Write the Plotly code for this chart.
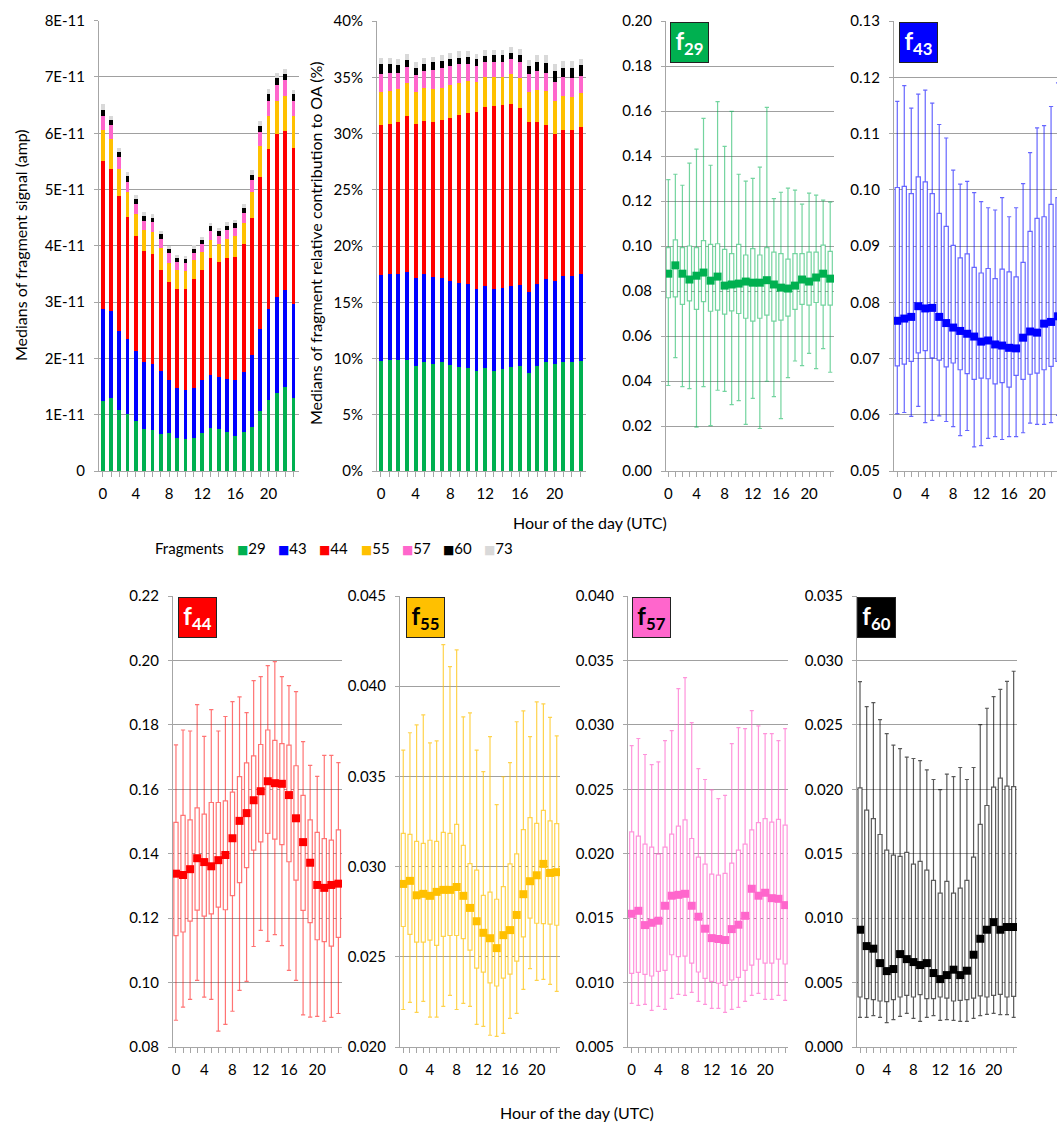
import plotly.graph_objects as go

W, H = 1057, 1124
HOURS = list(range(24))
FRAGMENTS = ["29", "43", "44", "55", "57", "60", "73"]
COLORS = ["#00B050", "#0000FF", "#FF0000", "#FFC000", "#FF66CC", "#000000", "#D9D9D9"]

# ---- Panel 1: medians of fragment signal, in units of 1E-11 amp ----
amp_29 = [1.25,1.29,1.08,1.01,0.88,0.74,0.72,0.66,0.67,0.58,0.56,0.59,0.67,0.76,0.74,0.69,0.63,0.69,0.78,1.06,1.26,1.38,1.50,1.29]
amp_43 = [1.62,1.55,1.41,1.33,1.25,1.20,1.18,1.12,0.94,0.90,0.88,0.89,0.94,0.94,0.93,0.95,0.99,1.07,1.28,1.47,1.61,1.72,1.71,1.68]
amp_44 = [2.63,2.53,2.40,2.17,2.04,1.96,1.95,1.79,1.75,1.75,1.79,1.93,1.96,2.08,2.04,2.15,2.19,2.27,2.44,2.69,2.85,2.88,2.83,2.76]
amp_55 = [0.55,0.52,0.47,0.45,0.40,0.38,0.39,0.39,0.34,0.34,0.33,0.33,0.32,0.33,0.32,0.33,0.36,0.38,0.46,0.56,0.59,0.60,0.62,0.57]
amp_57 = [0.26,0.25,0.22,0.18,0.18,0.17,0.18,0.17,0.17,0.15,0.14,0.14,0.14,0.16,0.15,0.16,0.15,0.18,0.21,0.25,0.27,0.28,0.28,0.27]
amp_60 = [0.11,0.09,0.08,0.10,0.08,0.08,0.08,0.08,0.07,0.07,0.07,0.07,0.08,0.08,0.08,0.08,0.08,0.08,0.09,0.10,0.11,0.12,0.12,0.12]
amp_73 = [0.10,0.08,0.08,0.07,0.07,0.07,0.07,0.06,0.06,0.05,0.05,0.06,0.05,0.06,0.06,0.06,0.06,0.07,0.08,0.08,0.09,0.09,0.09,0.08]
AMP_TICKVALS = [0, 1, 2, 3, 4, 5, 6, 7, 8]
AMP_TICKTEXT = ["0", "1E-11", "2E-11", "3E-11", "4E-11", "5E-11", "6E-11", "7E-11", "8E-11"]

# ---- Panel 2: relative contribution to OA (%) ----
pct_29 = [9.82,9.85,9.85,9.85,9.32,9.65,9.53,9.65,9.38,9.23,9.20,8.88,9.14,8.88,9.09,9.23,9.32,8.73,9.29,9.65,9.50,9.73,9.65,9.79]
pct_43 = [7.64,7.67,7.70,7.88,7.88,7.87,7.70,7.55,7.49,7.44,7.38,7.34,7.29,7.29,7.22,7.20,7.17,7.14,7.32,7.43,7.40,7.64,7.64,7.70]
pct_44 = [13.34,13.31,13.49,13.87,13.66,13.60,13.81,14.01,14.52,14.99,15.25,15.70,15.94,16.26,16.18,16.20,15.79,15.11,14.37,13.69,13.07,12.93,13.04,13.10]
pct_55 = [2.93,2.96,2.89,2.90,2.87,2.90,2.92,2.87,2.90,2.87,2.81,2.70,2.63,2.60,2.57,2.64,2.69,2.75,2.90,2.99,2.93,3.04,2.95,2.99]
pct_57 = [1.57,1.57,1.43,1.42,1.48,1.57,1.66,1.72,1.69,1.62,1.51,1.42,1.36,1.33,1.33,1.36,1.39,1.54,1.68,1.65,1.69,1.66,1.66,1.57]
pct_60 = [0.88,0.79,0.76,0.65,0.59,0.62,0.71,0.65,0.62,0.60,0.63,0.56,0.53,0.59,0.59,0.56,0.62,0.71,0.83,0.89,0.94,0.86,0.89,0.92]
pct_73 = [0.57,0.54,0.48,0.53,0.53,0.48,0.50,0.50,0.56,0.56,0.53,0.47,0.51,0.45,0.45,0.50,0.51,0.53,0.62,0.65,0.62,0.62,0.59,0.59]

# ---- Box panels: upper whisker, Q3, median, Q1, lower whisker ----
f29_hi  = [0.1295,0.1319,0.1270,0.1368,0.1431,0.1567,0.1359,0.1642,0.1443,0.1598,0.1319,0.1288,0.1301,0.1351,0.1616,0.1211,0.1239,0.1257,0.1248,0.1186,0.1235,0.1226,0.1204,0.1195]
f29_q3  = [0.0993,0.1027,0.0993,0.1000,0.0993,0.1024,0.1007,0.1010,0.0985,0.0966,0.1007,0.0960,0.0988,0.0960,0.0993,0.0973,0.0966,0.0942,0.0966,0.0966,0.0973,0.0973,0.1004,0.0976]
f29_med = [0.0877,0.0914,0.0877,0.0851,0.0868,0.0882,0.0846,0.0864,0.0824,0.0829,0.0833,0.0842,0.0837,0.0837,0.0848,0.0829,0.0815,0.0811,0.0824,0.0851,0.0842,0.0860,0.0877,0.0855]
f29_q1  = [0.0770,0.0774,0.0741,0.0756,0.0718,0.0753,0.0710,0.0715,0.0697,0.0712,0.0700,0.0679,0.0666,0.0679,0.0693,0.0666,0.0671,0.0688,0.0718,0.0741,0.0737,0.0749,0.0737,0.0737]
f29_lo  = [0.0380,0.0504,0.0375,0.0366,0.0195,0.0375,0.0202,0.0359,0.0354,0.0295,0.0313,0.0207,0.0323,0.0189,0.0399,0.0331,0.0233,0.0415,0.0489,0.0468,0.0523,0.0455,0.0544,0.0439]

f43_hi  = [0.1157,0.1185,0.1145,0.1170,0.1177,0.1154,0.1116,0.1092,0.1035,0.1010,0.1015,0.0995,0.0979,0.0968,0.0964,0.0986,0.0952,0.0968,0.1011,0.1066,0.1110,0.1114,0.1148,0.1190]
f43_q3  = [0.1004,0.1006,0.0993,0.1023,0.1014,0.0993,0.0958,0.0935,0.0901,0.0879,0.0886,0.0862,0.0852,0.0860,0.0842,0.0859,0.0854,0.0845,0.0871,0.0926,0.0949,0.0952,0.0974,0.0986]
f43_med = [0.0767,0.0771,0.0774,0.0793,0.0789,0.0790,0.0774,0.0763,0.0755,0.0749,0.0744,0.0739,0.0730,0.0732,0.0725,0.0723,0.0719,0.0718,0.0737,0.0748,0.0746,0.0762,0.0765,0.0775]
f43_q1  = [0.0687,0.0690,0.0695,0.0710,0.0714,0.0701,0.0697,0.0685,0.0692,0.0680,0.0673,0.0663,0.0665,0.0664,0.0655,0.0657,0.0649,0.0670,0.0663,0.0672,0.0674,0.0680,0.0686,0.0695]
f43_lo  = [0.0602,0.0604,0.0597,0.0615,0.0586,0.0590,0.0598,0.0588,0.0579,0.0563,0.0572,0.0543,0.0545,0.0558,0.0561,0.0556,0.0561,0.0561,0.0568,0.0585,0.0583,0.0583,0.0586,0.0599]

f44_hi  = [0.1738,0.1784,0.1781,0.1863,0.1764,0.1847,0.1781,0.1826,0.1872,0.1887,0.1838,0.1937,0.1950,0.1984,0.1996,0.1950,0.1922,0.1903,0.1748,0.1674,0.1640,0.1705,0.1705,0.1683]
f44_q3  = [0.1497,0.1519,0.1505,0.1542,0.1523,0.1559,0.1559,0.1564,0.1591,0.1639,0.1682,0.1704,0.1739,0.1784,0.1752,0.1742,0.1737,0.1673,0.1581,0.1505,0.1466,0.1447,0.1442,0.1474]
f44_med = [0.1338,0.1334,0.1352,0.1386,0.1374,0.1361,0.1380,0.1396,0.1448,0.1502,0.1526,0.1566,0.1594,0.1625,0.1619,0.1617,0.1582,0.1510,0.1436,0.1372,0.1303,0.1294,0.1303,0.1307]
f44_q1  = [0.1146,0.1157,0.1191,0.1225,0.1206,0.1213,0.1234,0.1226,0.1270,0.1310,0.1357,0.1411,0.1437,0.1463,0.1445,0.1428,0.1375,0.1318,0.1224,0.1186,0.1133,0.1127,0.1113,0.1140]
f44_lo  = [0.0883,0.0924,0.0948,0.1007,0.0955,0.0948,0.0849,0.0870,0.0911,0.0976,0.1004,0.1112,0.1162,0.1128,0.1149,0.1115,0.1038,0.1007,0.0900,0.0893,0.0895,0.0880,0.0892,0.0904]

f55_hi  = [0.03646,0.03742,0.03786,0.03841,0.03686,0.03697,0.04231,0.04109,0.04201,0.03830,0.03852,0.03646,0.03526,0.03720,0.03343,0.03498,0.03576,0.03803,0.03863,0.03721,0.03913,0.03902,0.03827,0.03725]
f55_q3  = [0.03184,0.03179,0.03140,0.03129,0.03146,0.03140,0.03190,0.03184,0.03234,0.03118,0.03017,0.02980,0.02841,0.02858,0.02819,0.02889,0.03015,0.03070,0.03205,0.03271,0.03240,0.03312,0.03253,0.03238]
f55_med = [0.02904,0.02921,0.02841,0.02849,0.02838,0.02860,0.02871,0.02871,0.02887,0.02838,0.02771,0.02697,0.02633,0.02603,0.02548,0.02620,0.02648,0.02732,0.02847,0.02919,0.02952,0.03015,0.02965,0.02969]
f55_q1  = [0.02668,0.02624,0.02581,0.02581,0.02592,0.02563,0.02613,0.02618,0.02618,0.02601,0.02537,0.02437,0.02415,0.02356,0.02338,0.02382,0.02404,0.02476,0.02611,0.02714,0.02686,0.02684,0.02681,0.02675]
f55_lo  = [0.02208,0.02247,0.02192,0.02253,0.02166,0.02166,0.02225,0.02286,0.02208,0.02242,0.02225,0.02125,0.02114,0.02065,0.02059,0.02076,0.02159,0.02186,0.02319,0.02435,0.02369,0.02375,0.02347,0.02308]

f57_hi  = [0.02839,0.02894,0.02770,0.02692,0.02713,0.02878,0.02956,0.03281,0.03367,0.03018,0.02661,0.02576,0.02496,0.02428,0.02452,0.02855,0.02979,0.02971,0.03111,0.02992,0.02932,0.02932,0.02878,0.02971]
f57_q3  = [0.02170,0.02136,0.02074,0.02051,0.01997,0.02051,0.02152,0.02214,0.02263,0.02118,0.01973,0.01919,0.01842,0.01834,0.01847,0.01927,0.02028,0.02074,0.02185,0.02242,0.02273,0.02245,0.02266,0.02222]
f57_med = [0.01534,0.01557,0.01446,0.01464,0.01480,0.01596,0.01674,0.01681,0.01689,0.01596,0.01511,0.01418,0.01345,0.01338,0.01330,0.01415,0.01449,0.01518,0.01728,0.01674,0.01697,0.01655,0.01650,0.01601]
f57_q1  = [0.01071,0.01079,0.01064,0.01051,0.01087,0.01095,0.01216,0.01201,0.01206,0.01151,0.01082,0.01033,0.01009,0.00996,0.00978,0.01020,0.01040,0.01095,0.01136,0.01182,0.01151,0.01151,0.01182,0.01144]
f57_lo  = [0.00839,0.00823,0.00831,0.00784,0.00815,0.00792,0.00877,0.00908,0.00901,0.00924,0.00854,0.00831,0.00800,0.00800,0.00769,0.00792,0.00808,0.00854,0.00901,0.00916,0.00870,0.00870,0.00901,0.00862]

f60_hi  = [0.02836,0.02642,0.02673,0.02541,0.02432,0.02342,0.02316,0.02249,0.02239,0.02223,0.02151,0.02076,0.01998,0.02117,0.02099,0.02169,0.02076,0.02169,0.02502,0.02629,0.02719,0.02776,0.02838,0.02916]
f60_q3  = [0.02011,0.01838,0.01773,0.01649,0.01528,0.01489,0.01479,0.01510,0.01419,0.01440,0.01373,0.01293,0.01194,0.01285,0.01194,0.01233,0.01293,0.01473,0.01727,0.01874,0.02016,0.02086,0.02024,0.02021]
f60_med = [0.00910,0.00783,0.00763,0.00651,0.00589,0.00605,0.00721,0.00682,0.00659,0.00636,0.00651,0.00574,0.00527,0.00558,0.00600,0.00558,0.00592,0.00716,0.00840,0.00910,0.00969,0.00910,0.00931,0.00931]
f60_q1  = [0.00388,0.00375,0.00367,0.00357,0.00352,0.00367,0.00388,0.00401,0.00388,0.00406,0.00375,0.00375,0.00388,0.00380,0.00357,0.00362,0.00367,0.00380,0.00396,0.00388,0.00401,0.00408,0.00388,0.00393]
f60_lo  = [0.00230,0.00230,0.00243,0.00230,0.00189,0.00212,0.00238,0.00261,0.00222,0.00199,0.00230,0.00243,0.00207,0.00212,0.00207,0.00199,0.00199,0.00222,0.00243,0.00253,0.00261,0.00251,0.00251,0.00230]

FONT = "Lato, 'Open Sans', 'DejaVu Sans', sans-serif"
GRID = "#A0A0A0"
AXIS = "#A6A6A6"

def dom_x(a, b):
    return [a / W, min(b / W, 1.0)]

def dom_y(top, bottom):
    return [1 - bottom / H, 1 - top / H]

fig = go.Figure()

def ticks(vals, fmt):
    return vals, [fmt.format(v) for v in vals]

f29_ticks = [0.00, 0.02, 0.04, 0.06, 0.08, 0.10, 0.12, 0.14, 0.16, 0.18, 0.20]
f43_ticks = [0.05, 0.06, 0.07, 0.08, 0.09, 0.10, 0.11, 0.12, 0.13]
f44_ticks = [0.08, 0.10, 0.12, 0.14, 0.16, 0.18, 0.20, 0.22]
f55_ticks = [0.020, 0.025, 0.030, 0.035, 0.040, 0.045]
f57_ticks = [0.005, 0.010, 0.015, 0.020, 0.025, 0.030, 0.035, 0.040]
f60_ticks = [0.000, 0.005, 0.010, 0.015, 0.020, 0.025, 0.030, 0.035]
pct_ticks = [0, 5, 10, 15, 20, 25, 30, 35, 40]

# (suffix, x-domain px, y-domain px, x-range, y-range, y tickvals, y ticktext)
panels = [
    ("", (99, 299), (20.7, 471), [-0.45, 23.68], [0, 8], AMP_TICKVALS, AMP_TICKTEXT),
    ("2", (377, 586), (21, 471), [-0.46, 23.62], [0, 40], pct_ticks, [f"{v}%" for v in pct_ticks]),
    ("3", (666, 834), (21, 471), [-0.33, 23.54], [0, 0.20], *ticks(f29_ticks, "{:.2f}")),
    ("4", (894, 1057), (21, 471), [-0.47, 22.85], [0.05, 0.13], *ticks(f43_ticks, "{:.2f}")),
    ("5", (173, 342), (596, 1047), [-0.42, 23.51], [0.08, 0.22], *ticks(f44_ticks, "{:.2f}")),
    ("6", (400, 560), (596, 1047), [-0.49, 23.49], [0.020, 0.045], *ticks(f55_ticks, "{:.3f}")),
    ("7", (628, 788), (596, 1047), [-0.55, 23.43], [0.005, 0.040], *ticks(f57_ticks, "{:.3f}")),
    ("8", (857, 1017), (596, 1047), [-0.45, 23.50], [0.000, 0.035], *ticks(f60_ticks, "{:.3f}")),
]

layout_axes = {}
for suf, xd, yd, xr, yr, tv, tt in panels:
    layout_axes["xaxis" + suf] = dict(
        domain=dom_x(*xd), range=xr, anchor="y" + suf, automargin=False,
        tickmode="linear", tick0=0, dtick=4,
        ticks="outside", ticklen=5, tickcolor=AXIS, ticklabelstandoff=4,
        minor=dict(tickmode="linear", tick0=0, dtick=1, ticks="outside", ticklen=5,
                   tickcolor=AXIS, showgrid=False),
        showline=True, linecolor=AXIS, linewidth=1,
        showgrid=False, zeroline=False, fixedrange=True,
    )
    layout_axes["yaxis" + suf] = dict(
        domain=dom_y(*yd), range=yr, anchor="x" + suf, automargin=False,
        tickmode="array", tickvals=tv, ticktext=tt,
        ticks="outside", ticklen=4, tickcolor=AXIS, ticklabelstandoff=6,
        showline=True, linecolor=AXIS, linewidth=1,
        showgrid=True, gridcolor=GRID, gridwidth=1, zeroline=False, fixedrange=True,
    )

# stacked bars, panels 1 and 2
amp_series = [amp_29, amp_43, amp_44, amp_55, amp_57, amp_60, amp_73]
pct_series = [pct_29, pct_43, pct_44, pct_55, pct_57, pct_60, pct_73]
for name, col, vals in zip(FRAGMENTS, COLORS, amp_series):
    fig.add_trace(go.Bar(x=HOURS, y=vals, name=name, marker=dict(color=col, line=dict(width=0)),
                         width=0.45, xaxis="x", yaxis="y", showlegend=False))
for name, col, vals in zip(FRAGMENTS, COLORS, pct_series):
    fig.add_trace(go.Bar(x=HOURS, y=vals, name=name, marker=dict(color=col, line=dict(width=0)),
                         width=0.45, xaxis="x2", yaxis="y2", showlegend=False))

# box panels
boxes = [
    ("3", "29", "#00B050", "rgba(0,176,80,0.55)", (f29_hi, f29_q3, f29_med, f29_q1, f29_lo), "white"),
    ("4", "43", "#0000FF", "rgba(0,0,255,0.6)", (f43_hi, f43_q3, f43_med, f43_q1, f43_lo), "white"),
    ("5", "44", "#FF0000", "rgba(255,0,0,0.55)", (f44_hi, f44_q3, f44_med, f44_q1, f44_lo), "white"),
    ("6", "55", "#FFC000", "rgba(255,192,0,0.7)", (f55_hi, f55_q3, f55_med, f55_q1, f55_lo), "black"),
    ("7", "57", "#FF66CC", "rgba(255,102,204,0.7)", (f57_hi, f57_q3, f57_med, f57_q1, f57_lo), "black"),
    ("8", "60", "#000000", "rgba(0,0,0,0.65)", (f60_hi, f60_q3, f60_med, f60_q1, f60_lo), "white"),
]
annotations = []
label_offsets = {"3": 0.024, "4": 0.03, "5": 0.03, "6": 0.037, "7": 0.025, "8": 0.0}
for suf, frag, solid, light, (hi, q3, med, q1, lo), txtcol in boxes:
    fig.add_trace(go.Box(
        x=HOURS, q1=q1, median=med, q3=q3, lowerfence=lo, upperfence=hi,
        width=0.6, whiskerwidth=1, boxpoints=False,
        line=dict(color=light, width=1.2), fillcolor="rgba(255,255,255,1)",
        xaxis="x" + suf, yaxis="y" + suf, showlegend=False, hoverinfo="skip",
    ))
    fig.add_trace(go.Scatter(
        x=HOURS, y=med, mode="markers",
        marker=dict(symbol="square", size=8, color=solid, line=dict(width=0)),
        xaxis="x" + suf, yaxis="y" + suf, showlegend=False,
    ))
    annotations.append(dict(
        xref=f"x{suf} domain", yref=f"y{suf} domain",
        x=label_offsets[suf], y=0.998, xanchor="left", yanchor="top",
        text=f"<b>f<sub>{frag}</sub></b>", showarrow=False,
        font=dict(family=FONT, size=24, color=txtcol),
        bgcolor=solid, bordercolor="#222222", borderwidth=1, borderpad=0,
        width=37, height=39, align="center", valign="middle",
    ))

# axis titles
title_font = dict(family=FONT, size=16, color="black")
annotations += [
    dict(xref="paper", yref="paper", x=20 / W, y=1 - 245 / H, xanchor="center", yanchor="middle",
         text="Medians of fragment signal (amp)", textangle=-90, showarrow=False, font=title_font),
    dict(xref="paper", yref="paper", x=316 / W, y=1 - 243 / H, xanchor="center", yanchor="middle",
         text="Medians of fragment relative contribution to OA (%)",
         textangle=-90, showarrow=False, font=title_font),
    dict(xref="paper", yref="paper", x=590 / W, y=1 - 522 / H, xanchor="center", yanchor="middle",
         text="Hour of the day (UTC)", showarrow=False, font=title_font),
    dict(xref="paper", yref="paper", x=577 / W, y=1 - 1112 / H, xanchor="center", yanchor="middle",
         text="Hour of the day (UTC)", showarrow=False, font=title_font),
    dict(xref="paper", yref="paper", x=153 / W, y=1 - 548 / H, xanchor="left", yanchor="middle",
         text="Fragments", showarrow=False, font=dict(family=FONT, size=15, color="black")),
]
# legend entries
for i, (name, col) in enumerate(zip(FRAGMENTS, COLORS)):
    annotations.append(dict(
        xref="paper", yref="paper", x=(235 + 41.2 * i) / W, y=1 - 548 / H,
        xanchor="left", yanchor="middle",
        text=f"<span style='color:{col};font-size:12px'>■</span>{name}", showarrow=False,
        font=dict(family=FONT, size=15, color="black"),
    ))

fig.update_layout(
    width=W, height=H,
    margin=dict(l=0, r=0, t=0, b=0, autoexpand=False),
    paper_bgcolor="white", plot_bgcolor="white",
    barmode="stack", showlegend=False,
    font=dict(family=FONT, size=15, color="black"),
    annotations=annotations,
    **layout_axes,
)

fig.write_html("out.html")
